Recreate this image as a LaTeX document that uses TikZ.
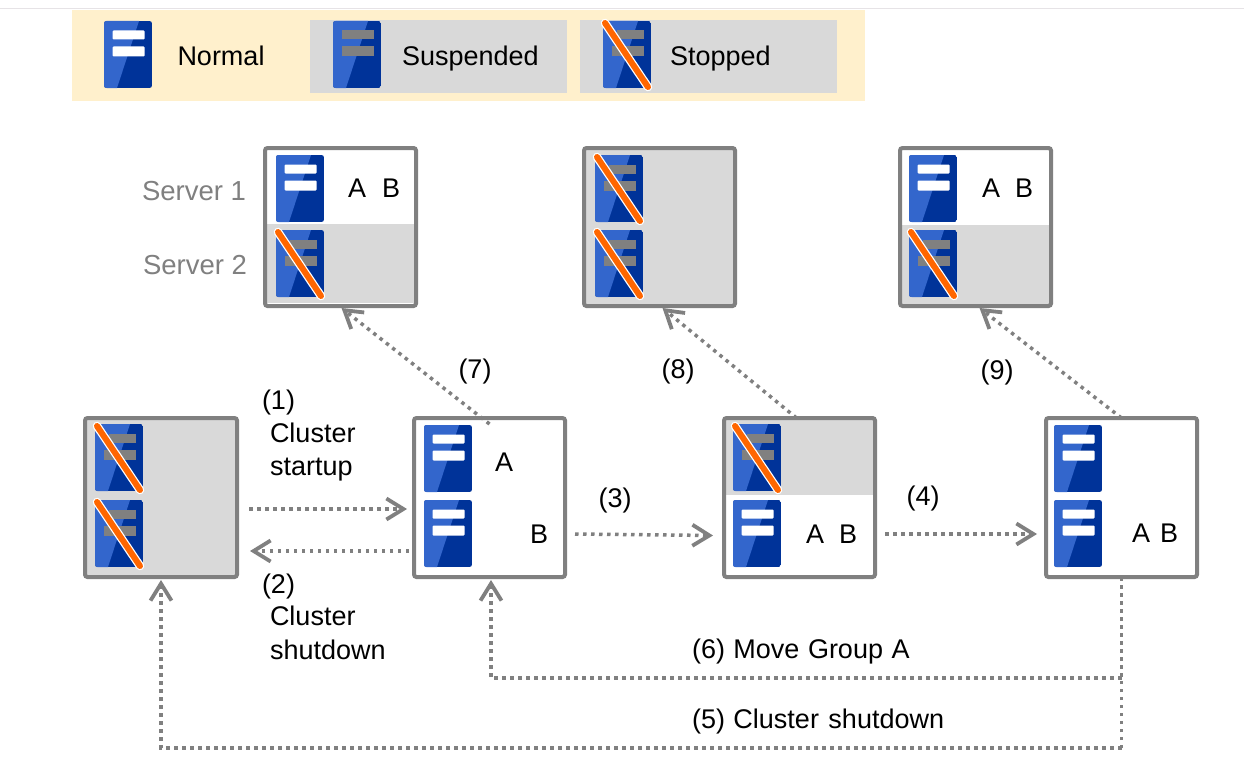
\documentclass[tikz,border=0pt]{standalone}
\usepackage{fontspec}
\setmainfont{Liberation Sans}
\usetikzlibrary{arrows.meta}
\definecolor{lightblue}{HTML}{3366CC}
\definecolor{darkblue}{HTML}{003399}
\definecolor{midgray}{HTML}{808080}
\definecolor{panel}{HTML}{D9D9D9}
\definecolor{cream}{HTML}{FFF0CC}
\definecolor{hair}{HTML}{E6E3E6}
\definecolor{slash}{HTML}{FF6600}
\tikzset{
  iconbase/.pic={
    \begin{scope}
      \clip[rounded corners=2.5] (0,0) rectangle (48,67);
      \fill[darkblue] (0,0) rectangle (48,67);
      \fill[lightblue] (0,0) -- (35,0) -- (13,67) -- (0,67) -- cycle;
    \end{scope}
  },
  srvnormal/.pic={
    \pic {iconbase};
    \fill[white,rounded corners=1] (8.5,9.5) rectangle (40.5,18.5);
    \fill[white,rounded corners=1] (8.5,25.5) rectangle (40.5,35.5);
  },
  srvsusp/.pic={
    \pic {iconbase};
    \fill[midgray] (8.5,9.5) rectangle (40.5,18.5);
    \fill[midgray] (8.5,25.5) rectangle (40.5,35.5);
  },
  srvstop/.pic={
    \pic {iconbase};
    \fill[midgray] (14,9.5) rectangle (40.5,18.5);
    \fill[midgray] (8.5,25.5) rectangle (40.5,35.5);
    \draw[white,line width=8.5,line cap=round] (2,2) -- (45,66);
    \draw[slash,line width=6,line cap=round] (2,2) -- (45,66);
  },
  box/.style={draw=midgray,line width=4,rounded corners=2.5,minimum width=151,minimum height=158,inner sep=0,outer sep=0},
  conn/.style={draw=midgray,line width=3.5,dash pattern=on 3.5pt off 4.5pt,-{Straight Barb[length=17pt,width=21pt,line width=3.8pt]}},
  plainconn/.style={draw=midgray,line width=3.5,dash pattern=on 3.5pt off 4.5pt},
  lab/.style={font=\fontsize{27}{32}\selectfont,anchor=base west,inner sep=0,outer sep=0,text=black},
  clab/.style={font=\fontsize{27}{32}\selectfont,anchor=base,inner sep=0,outer sep=0,text=black},
  glab/.style={font=\fontsize{27.5}{32}\selectfont,anchor=base east,inner sep=0,outer sep=0,text=midgray},
}
\begin{document}
\begin{tikzpicture}[x=1pt,y=-1pt]
\useasboundingbox (0,0) rectangle (1244,776);
\fill[white] (0,0) rectangle (1244,776);
\fill[hair] (0,8) rectangle (1244,9.5);
% legend
\fill[cream] (72,10) rectangle (865,101);
\fill[panel] (310,20) rectangle (567,92.5);
\fill[panel] (580,20) rectangle (837,92.5);
\pic at (104,21) {srvnormal};
\pic at (333,21) {srvsusp};
\pic at (603,21) {srvstop};
\node[lab] (lnormal) at (177.5,66) {Normal};
\node[lab] (lsusp) at (402,66) {Suspended};
\node[lab] (lstop) at (670,66) {Stopped};
% panels
\fill[panel] (265,224) rectangle (416,303);
\fill[panel] (584,148) rectangle (735,304);
\fill[panel] (900,225) rectangle (1051,304);
\fill[panel] (85,418) rectangle (237,575);
\fill[panel] (724,418) rectangle (875,495);
% boxes
\node[box] (T1) at (340.5,227) {};
\node[box] (T2) at (659.5,227) {};
\node[box] (T3) at (975.5,227) {};
\node[box,minimum width=152,minimum height=159] (L0) at (161,497.5) {};
\node[box,minimum height=159] (L1) at (489.5,497.5) {};
\node[box,minimum height=159] (L2) at (799.5,497.5) {};
\node[box,minimum height=159] (L3) at (1121.5,497.5) {};
% icons
\pic at (276,155) {srvnormal};
\pic at (276,230) {srvstop};
\pic at (595,155) {srvstop};
\pic at (595,230) {srvstop};
\pic at (909,155) {srvnormal};
\pic at (909,230) {srvstop};
\pic at (95,424) {srvstop};
\pic at (95,500) {srvstop};
\pic at (424,425) {srvnormal};
\pic at (424,500) {srvnormal};
\pic at (733,424) {srvstop};
\pic at (733,500) {srvnormal};
\pic at (1054,425) {srvnormal};
\pic at (1054,500) {srvnormal};
% group letters
\node[clab] (a1) at (357,197) {A};
\node[clab] (b1) at (391,197) {B};
\node[clab] (a3) at (991,197) {A};
\node[clab] (b3) at (1024,197) {B};
\node[clab] (a4) at (504,471) {A};
\node[clab] (b4) at (539,543) {B};
\node[clab] (a5) at (815,543) {A};
\node[clab] (b5) at (848,543) {B};
\node[clab] (a6) at (1141,542) {A};
\node[clab] (b6) at (1169,542) {B};
\node[glab] (s1) at (246,200) {Server 1};
\node[glab] (s2) at (247,274) {Server 2};
% connectors
\draw[conn] ([shift={(12,11.5)}]L0.east) -- ([shift={(-7,11.5)}]L1.west);
\draw[conn] ([shift={(-5,53.5)}]L1.west) -- ([shift={(13,53.5)}]L0.east);
\draw[conn] ([shift={(10,36.5)}]L1.east) -- ([shift={(-11,38)}]L2.west);
\draw[conn] ([shift={(10,36.5)}]L2.east) -- ([shift={(-9,36.5)}]L3.west);
\draw[conn] ([shift={(0,6)}]L1.north) -- ([shift={(1,2)}]T1.south);
\draw[conn] ([shift={(-3,0)}]L2.north) -- ([shift={(3,2)}]T2.south);
\draw[conn] (L3.north) -- ([shift={(4,2)}]T3.south);
\coordinate (j6) at (L3.south |- 0,678);
\coordinate (k6) at ([xshift=1.5]L1.south |- 0,678);
\coordinate (j5) at (L3.south |- 0,748);
\coordinate (k5) at (L0.south |- 0,748);
\draw[plainconn] (L3.south) -- (j6);
\draw[plainconn] (j5) -- (j6);
\draw[conn] (j6) -- (k6) -- ([shift={(1.5,3)}]L1.south);
\draw[conn] (j5) -- (k5) -- ([shift={(0,3)}]L0.south);
% labels
\node[lab] (n1) at (262,409) {(1)};
\node[lab] (n1a) at (270,442) {Cluster};
\node[lab] (n1b) at (270,475) {startup};
\node[lab] (n2) at (262,593) {(2)};
\node[lab] (n2a) at (270,625) {Cluster};
\node[lab] (n2b) at (270,659) {shutdown};
\node[clab] (n3) at (615,507) {(3)};
\node[clab] (n4) at (923,505) {(4)};
\node[clab] (n7) at (475,378) {(7)};
\node[clab] (n8) at (678,378) {(8)};
\node[clab] (n9) at (997,379) {(9)};
\node[lab] (n6) at (692,658) {(6)\hspace{1pt} Move\hspace{1pt} Group\hspace{1pt} A};
\node[lab] (n5) at (692,728) {(5)\hspace{1pt} Cluster\hspace{2pt} shutdown};
\end{tikzpicture}
\end{document}
